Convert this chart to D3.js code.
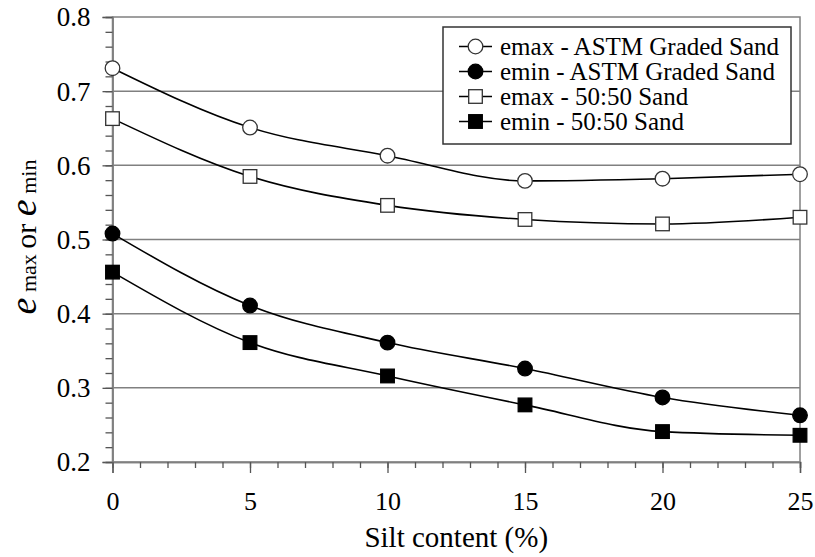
<!DOCTYPE html>
<html><head><meta charset="utf-8">
<script src="https://cdn.jsdelivr.net/npm/d3@7"></script>
<style>
body{margin:0;background:#fff}
svg{display:block}
svg text, svg tspan{font-family:"Liberation Serif", serif !important}
</style>
</head><body><svg id="c" width="815" height="557" font-family="Liberation Serif"></svg>
<script>
const silt = [0, 5, 10, 15, 20, 25];
const emaxASTM = [0.731, 0.651, 0.613, 0.579, 0.582, 0.588];
const eminASTM = [0.508, 0.411, 0.361, 0.326, 0.287, 0.263];
const emax5050 = [0.663, 0.585, 0.546, 0.527, 0.521, 0.530];
const emin5050 = [0.456, 0.361, 0.316, 0.277, 0.241, 0.236];
const seriesNames = ["emax - ASTM Graded Sand", "emin - ASTM Graded Sand", "emax - 50:50 Sand", "emin - 50:50 Sand"];
const xTicks = [0, 5, 10, 15, 20, 25];
const yTicks = [0.2, 0.3, 0.4, 0.5, 0.6, 0.7, 0.8];

const FONT = "Liberation Serif";

const series = [
  {name: seriesNames[0], vals: emaxASTM, shape: "circle", fill: "#fff"},
  {name: seriesNames[1], vals: eminASTM, shape: "circle", fill: "#000"},
  {name: seriesNames[2], vals: emax5050, shape: "square", fill: "#fff"},
  {name: seriesNames[3], vals: emin5050, shape: "square", fill: "#000"}
];

const svg = d3.select("#c");
const L = 112.5, R = 800, T = 17, B = 462;
const x = d3.scaleLinear().domain([0, 25]).range([L, R]);
const y = d3.scaleLinear().domain([0.2, 0.8]).range([B, T]);
const grid = "#808080";

// gridlines
svg.append("g").selectAll("line").data(yTicks.slice(1, -1)).join("line")
  .attr("x1", L).attr("x2", R).attr("y1", d => y(d)).attr("y2", d => y(d))
  .attr("stroke", grid).attr("stroke-width", 1.5);

// frame
svg.append("rect").attr("x", L).attr("y", T).attr("width", R - L).attr("height", B - T)
  .attr("fill", "none").attr("stroke", grid).attr("stroke-width", 1.5);

// axes
const yAxis = d3.axisLeft(y).tickValues(yTicks).tickSize(10).tickFormat(d3.format(".1f"));
const gy = svg.append("g").attr("transform", `translate(${L},0)`).call(yAxis);
const yMinor = d3.axisLeft(y).tickValues(d3.range(0.2, 0.8001, 0.02)).tickSize(7).tickFormat("");
svg.append("g").attr("transform", `translate(${L},0)`).call(yMinor);
const xAxis = d3.axisBottom(x).tickValues(xTicks).tickSize(11).tickFormat(d3.format("d"));
const gx = svg.append("g").attr("transform", `translate(0,${B})`).call(xAxis);
const xMinor = d3.axisBottom(x).tickValues(d3.range(0, 25.001, 1)).tickSize(6).tickFormat("");
svg.append("g").attr("transform", `translate(0,${B})`).call(xMinor);
svg.selectAll("g").attr("font-family", FONT);
svg.selectAll(".domain").attr("stroke", grid).attr("stroke-width", 1.5);
svg.selectAll(".tick line").attr("stroke", "#555").attr("stroke-width", 1.3);
gy.selectAll(".tick text").style("font-family", FONT).attr("font-size", 27)
  .attr("x", -22).attr("dy", "0.33em").attr("fill", "#000");
gx.selectAll(".tick text").style("font-family", FONT).attr("font-size", 26)
  .attr("y", 30).attr("dy", "0.71em").attr("fill", "#000");

// lines
const line = d3.line().x((d, i) => x(silt[i])).y(d => y(d)).curve(d3.curveMonotoneX);
svg.append("g").selectAll("path").data(series).join("path")
  .attr("d", s => line(s.vals)).attr("fill", "none").attr("stroke", "#000").attr("stroke-width", 1.6);

function marker(g, shape, fill, cx, cy) {
  if (shape === "circle") {
    g.append("circle").attr("cx", cx).attr("cy", cy).attr("r", 7.3)
      .attr("fill", fill).attr("stroke", fill === "#000" ? "#000" : "#333").attr("stroke-width", 1.3);
  } else {
    g.append("rect").attr("x", cx - 6.8).attr("y", cy - 6.8).attr("width", 13.6).attr("height", 13.6)
      .attr("fill", fill).attr("stroke", fill === "#000" ? "#000" : "#333").attr("stroke-width", 1.3);
  }
}
const mg = svg.append("g");
series.forEach(s => s.vals.forEach((v, i) => marker(mg, s.shape, s.fill, x(silt[i]), y(v))));

// legend
const lg = svg.append("g");
lg.append("rect").attr("x", 443).attr("y", 27).attr("width", 348).attr("height", 117)
  .attr("fill", "#fff").attr("stroke", "#333").attr("stroke-width", 1.5);
series.forEach((s, i) => {
  const cy = 46.5 + i * 25;
  lg.append("line").attr("x1", 459).attr("x2", 492).attr("y1", cy).attr("y2", cy)
    .attr("stroke", "#000").attr("stroke-width", 1.6);
  marker(lg, s.shape, s.fill, 475.5, cy);
  lg.append("text").attr("x", 500).attr("y", cy + 8)
    .style("font-family", FONT).attr("font-size", 25).text(s.name);
});

// axis titles
svg.append("text").attr("x", (L + R) / 2).attr("y", 547).attr("text-anchor", "middle")
  .style("font-family", FONT).attr("font-size", 29).text("Silt content (%)");
const yt = svg.append("text").attr("transform", "translate(36,237) rotate(-90)")
  .attr("text-anchor", "middle").style("font-family", FONT);
yt.append("tspan").attr("font-size", 38).attr("font-style", "italic").text("e");
yt.append("tspan").attr("font-size", 22).text(" max ");
yt.append("tspan").attr("font-size", 30).text("or ");
yt.append("tspan").attr("font-size", 38).attr("font-style", "italic").text("e");
yt.append("tspan").attr("font-size", 22).text(" min");
</script></body></html>
